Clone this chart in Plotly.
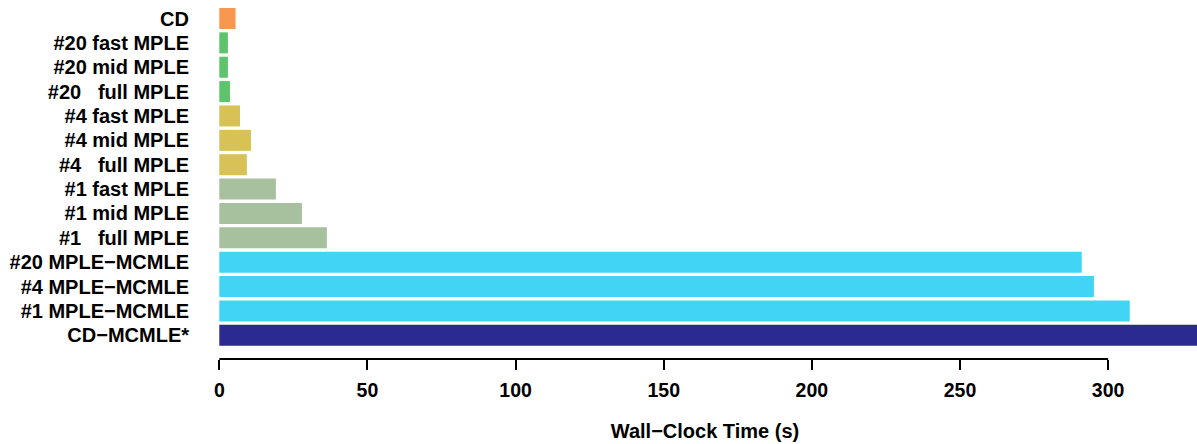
import plotly.graph_objects as go

categories = [
    "CD",
    "#20 fast MPLE",
    "#20 mid MPLE",
    "#20\u00a0\u00a0\u00a0full MPLE",
    "#4 fast MPLE",
    "#4 mid MPLE",
    "#4\u00a0\u00a0\u00a0full MPLE",
    "#1 fast MPLE",
    "#1 mid MPLE",
    "#1\u00a0\u00a0\u00a0full MPLE",
    "#20 MPLE\u2212MCMLE",
    "#4 MPLE\u2212MCMLE",
    "#1 MPLE\u2212MCMLE",
    "CD\u2212MCMLE*",
]
times = [5.5, 2.9, 2.9, 3.6, 7.0, 10.7, 9.3, 19.1, 27.9, 36.3, 291.1, 295.2, 307.3, 360.0]
colors = [
    "#F89850",
    "#5DC46B", "#5DC46B", "#5DC46B",
    "#D8C155", "#D8C155", "#D8C155",
    "#A7C19E", "#A7C19E", "#A7C19E",
    "#42D4F4", "#42D4F4", "#42D4F4",
    "#2A2A91",
]
tick_vals = [0, 50, 100, 150, 200, 250, 300]
x_title = "Wall\u2212Clock Time (s)"

FONT = "Liberation Sans, Arial, Helvetica, sans-serif"

fig = go.Figure(
    go.Bar(
        x=times,
        y=categories,
        orientation="h",
        marker=dict(color=colors, line=dict(width=0)),
        hoverinfo="x+y",
    )
)

fig.update_layout(
    width=1197,
    height=444,
    margin=dict(l=213, r=0, t=0, b=85, pad=0),
    paper_bgcolor="white",
    plot_bgcolor="white",
    bargap=0.138,
    showlegend=False,
    font=dict(family=FONT, color="black", size=20, weight="bold"),
    xaxis=dict(
        range=[-2.126, 330.0],
        tickvals=tick_vals,
        ticktext=[str(v) for v in tick_vals],
        ticks="outside",
        ticklen=10,
        tickwidth=2,
        tickcolor="black",
        showline=False,
        showgrid=False,
        zeroline=False,
        tickfont=dict(family=FONT, size=19.5, color="black", weight="bold"),
        ticklabelstandoff=4,
        title=dict(text=x_title, font=dict(family=FONT, size=20, color="black", weight="bold"), standoff=23),
    ),
    yaxis=dict(
        categoryorder="array",
        categoryarray=categories[::-1],
        range=[-0.973, 13.759],
        showgrid=False,
        zeroline=False,
        showline=False,
        ticks="",
        ticklabelstandoff=23,
        tickfont=dict(family=FONT, size=20, color="black", weight="bold"),
    ),
    shapes=[
        dict(
            type="line",
            xref="x",
            yref="paper",
            x0=tick_vals[0],
            x1=tick_vals[-1],
            y0=0,
            y1=0,
            line=dict(color="black", width=2),
        )
    ],
)

fig.write_html("out.html")
